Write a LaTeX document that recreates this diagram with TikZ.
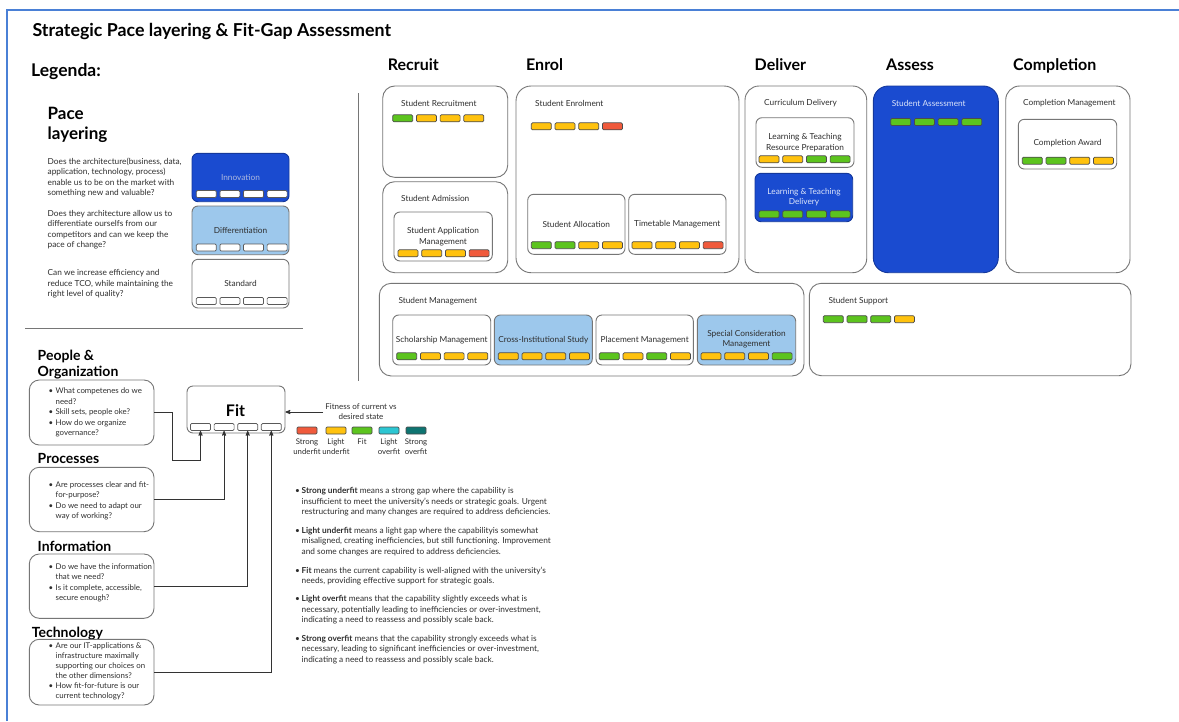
\documentclass[tikz,border=0pt]{standalone}
\usepackage{fontspec}
\setmainfont{Lato}
\usetikzlibrary{arrows,fit,positioning}
\definecolor{sapblue}{HTML}{1A4BD0}
\definecolor{paleblue}{HTML}{9DC8EC}
\definecolor{paletext}{HTML}{DCE4FA}
\definecolor{dimtext}{HTML}{AEB9DE}
\definecolor{boxgray}{HTML}{767676}
\definecolor{txtgray}{HTML}{2E2E2E}
\definecolor{fitR}{HTML}{F05A3C}
\definecolor{fitY}{HTML}{FFC20E}
\definecolor{fitG}{HTML}{5CC41E}
\definecolor{fitC}{HTML}{2CC6D2}
\definecolor{fitT}{HTML}{0E7471}
\definecolor{framecol}{HTML}{4A80D6}
\newcommand{\fsz}[2]{\fontsize{#1}{#2}\selectfont}
\newcommand{\bul}{\makebox[7pt][l]{\textbullet}}
\newcommand{\ind}{\hspace*{7pt}}
\newcommand{\dbul}{\makebox[6.5pt][l]{\textbullet}}
\newcommand{\dind}{\hspace*{6.5pt}}
% four coloured fit bars, #1 name, #2 x of first, #3 y, #4 colours
\newcommand{\fitbars}[4]{%
  \foreach \col [count=\i] in {#4}
    \node[fitbar, fill=\col] (#1-\i) at ({#2+(\i-1)*23.7},#3) {};}
\newcommand{\fitslots}[3]{%
  \foreach \i in {1,...,4}
    \node[fitslot] (#1-\i) at ({#2+(\i-1)*23.6},#3) {};}
\tikzset{
    %Define standard arrow tip
    >=stealth',
    %Define style for boxes
    capbox/.style={
           rectangle,
           rounded corners=12pt,
           draw=boxgray, line width=0.9pt,
           inner sep=0pt},
    subbox/.style={
           rectangle,
           rounded corners=6pt,
           draw=boxgray, line width=0.9pt,
           inner sep=0pt},
    bluebox/.style={fill=sapblue, draw=sapblue!75!black},
    palebox/.style={fill=paleblue},
    fitbar/.style={
           rectangle,
           rounded corners=1.2pt,
           draw=black!70, line width=0.7pt,
           minimum width=20pt,
           minimum height=7pt,
           inner sep=0pt},
    fitslot/.style={fitbar, fill=white, draw=black!65},
    lbl/.style={font=\fsz{8.3}{10.4}, text=txtgray, inner sep=0pt},
    dim/.style={lbl, font=\fsz{7.85}{10.4}, align=left, anchor=west},
    head/.style={font=\bfseries\fsz{16}{19}, text=black, inner sep=0pt, anchor=base west},
    % Define arrow style
    pil/.style={->, line width=0.8pt, black!80}
}

\begin{document}
\begin{tikzpicture}[x=1pt,y=-1pt]
\path[use as bounding box, fill=white] (0,0) rectangle (1179,721);
\draw[framecol, line width=2pt] (7,721) -- (7,10) -- (1179,10);

\node[head, font=\bfseries\fsz{17.8}{21}] (title) at (32.3,36.7) {Strategic Pace layering \& Fit-Gap Assessment};
\node[head, font=\bfseries\fsz{17.5}{21}] (leg) at (31,76) {Legenda:};

% pace layering
\node[head, font=\bfseries\fsz{17}{19.5}, align=left, anchor=north west] (pace) at (47.5,107.3) {Pace\\layering};
\node[lbl, align=left, anchor=west] (q1) at (47.5,177.6) {Does the architecture(business, data,\\application, technology, process)\\enable us to be on the market with\\something new and valuable?};
\node[lbl, align=left, anchor=west] (q2) at (47.5,229.8) {Does they architecture allow us to\\differentiate ourselfs from our\\competitors and can we keep the\\pace of change?};
\node[lbl, align=left, anchor=west] (q3) at (47.5,283.7) {Can we increase efficiency and\\reduce TCO, while maintaining the\\right level of quality?};
\node[subbox, bluebox, fit={(192,153.3) (289,201.7)}] (inno) {};
\node[subbox, palebox, fit={(192,206) (289,254.7)}] (diff) {};
\node[subbox, fit={(192,259.3) (289,308)}] (std) {};
\node[lbl, text=dimtext] (innot) at (240.5,177) {Innovation};
\node[lbl] (difft) at (240.5,230.3) {Differentiation};
\node[lbl] (stdt) at (240.5,283.5) {Standard};
\fitslots{inno}{206.3}{194}
\fitslots{diff}{206.3}{247.5}
\fitslots{std}{206.3}{301}
\draw[boxgray, line width=1pt] (25,328) -- (303,328);
\draw[boxgray, line width=1pt] (358.3,93) -- (358.3,381);

% dimensions
\node[head, font=\bfseries\fsz{14}{16.5}, align=left, anchor=west] (pplh) at (37.5,364.5) {People \&\\Organization};
\node[head, font=\bfseries\fsz{14}{16.5}] (proh) at (37.5,463.3) {Processes};
\node[head, font=\bfseries\fsz{14}{16.5}] (infh) at (37.5,551.7) {Information};
\node[head, font=\bfseries\fsz{14}{16.5}] (tech) at (31.7,637.5) {Technology};
\node[capbox, rounded corners=10pt, fit={(29.3,380) (154,445)}] (p1) {};
\node[capbox, rounded corners=10pt, fit={(29.3,467.3) (154,531.7)}] (p2) {};
\node[capbox, rounded corners=10pt, fit={(29.3,554) (154,618.3)}] (p3) {};
\node[capbox, rounded corners=10pt, fit={(29.3,639.3) (154,705)}] (p4) {};
\node[dim] (p1t) at (48.5,412.5) {\bul What competenes do we\\\ind need?\\\bul Skill sets, people oke?\\\bul How do we organize\\\ind governance?};
\node[dim] (p2t) at (48.5,501) {\bul Are processes clear and fit-\\\ind for-purpose?\\\bul Do we need to adapt our\\\ind way of working?};
\node[dim] (p3t) at (48.5,583) {\bul Do we have the information\\\ind that we need?\\\bul Is it complete, accessible,\\\ind secure enough?};
\node[dim, font=\fsz{7.85}{10}] (p4t) at (48.5,671.5) {\bul Are our IT-applications \&\\\ind infrastructure maximally\\\ind supporting our choices on\\\ind the other dimensions?\\\bul How fit-for-future is our\\\ind current technology?};

% fit
\node[subbox, fit={(187,386) (285,433)}] (fitbox) {};
\node[font=\bfseries\fsz{16}{19}, inner sep=0pt, anchor=base] (fitt) at (235.5,416.7) {Fit};
\fitslots{fs}{200.5}{427}
\draw[pil] (p1.east) -- ++(18,0) -- ++(0,47.5) -| (fs-1.south);
\draw[pil] (p2.east) -| (fs-2.south);
\draw[pil] (p3.east) -| (fs-3.south);
\draw[pil] (p4.east) -| (fs-4.south);
\node[lbl, font=\fsz{8}{10}, align=center, inner sep=2pt] (fitness) at (361,412) {Fitness of current vs\\desired state};
\draw[pil] (fitness.west) -- (fitness.west -| fitbox.east);
\foreach \col/\x/\txt [count=\i] in {fitR/307/Strong\\underfit, fitY/336/Light\\underfit, fitG/362/Fit, fitC/389/Light\\overfit, fitT/416/Strong\\overfit}{
  \node[fitbar, fill=\col] (sw-\i) at (\x,430.5) {};
  \node[lbl, font=\fsz{7.8}{9.3}, align=center, anchor=north] (sl-\i) at (\x,439) {\txt};
}

% definitions
\node[lbl, align=left, anchor=west] (d1) at (295,502) {\dbul\textbf{Strong underfit} means a strong gap where the capability is\\\dind insufficient to meet the university's needs or strategic goals. Urgent\\\dind restructuring and many changes are required to address deficiencies.};
\node[lbl, align=left, anchor=west] (d2) at (295,541.5) {\dbul\textbf{Light underfit} means a light gap where the capabilityis somewhat\\\dind misaligned, creating inefficiencies, but still functioning. Improvement\\\dind and some changes are required to address deficiencies.};
\node[lbl, align=left, anchor=west] (d3) at (295,575.8) {\dbul\textbf{Fit} means the current capability is well-aligned with the university's\\\dind needs, providing effective support for strategic goals.};
\node[lbl, align=left, anchor=west] (d4) at (295,610) {\dbul\textbf{Light overfit} means that the capability slightly exceeds what is\\\dind necessary, potentially leading to inefficiencies or over-investment,\\\dind indicating a need to reassess and possibly scale back.};
\node[lbl, align=left, anchor=west] (d5) at (295,649.5) {\dbul\textbf{Strong overfit} means that the capability strongly exceeds what is\\\dind necessary, leading to significant inefficiencies or over-investment,\\\dind indicating a need to reassess and possibly scale back.};

% value stream
\node[head] (h1) at (387.7,70.7) {Recruit};
\node[head] (h2) at (526,70.7) {Enrol};
\node[head] (h3) at (754.5,70.7) {Deliver};
\node[head] (h4) at (886,70.7) {Assess};
\node[head] (h5) at (1013,70.7) {Completion};

\node[capbox, fit={(382.7,86) (507.7,177.3)}] (rec) {};
\node[capbox, fit={(382.7,181.7) (507.7,272.7)}] (adm) {};
\node[subbox, fit={(394,212) (492.3,261)}] (app) {};
\node[capbox, rounded corners=15pt, fit={(516,86) (739,272.7)}] (enr) {};
\node[subbox, fit={(527.7,194.3) (625,254.3)}] (alloc) {};
\node[subbox, fit={(628.7,194.3) (726,254.3)}] (time) {};
\node[capbox, rounded corners=14pt, fit={(745,86) (866.7,272.7)}] (cur) {};
\node[subbox, fit={(756,117.7) (854,167.3)}] (lprep) {};
\node[subbox, bluebox, fit={(755,173.3) (852.7,221.7)}] (ldel) {};
\node[capbox, bluebox, rounded corners=15pt, fit={(873.3,86) (998.3,272.7)}] (assess) {};
\node[capbox, rounded corners=14pt, fit={(1005.7,86) (1130,272.7)}] (comp) {};
\node[subbox, fit={(1018.3,119.3) (1116.7,169)}] (award) {};
\node[capbox, fit={(379.3,283.3) (804,376)}] (mgmt) {};
\node[subbox, fit={(392.7,315) (490.7,365)}] (schol) {};
\node[subbox, palebox, fit={(494.3,315) (592.3,365)}] (cross) {};
\node[subbox, fit={(596,315) (693.3,365)}] (place) {};
\node[subbox, palebox, fit={(697.3,315) (795.7,365)}] (spec) {};
\node[capbox, fit={(809.3,283.3) (1131,375.7)}] (supp) {};

\node[lbl, anchor=west] (recl) at (401,103.3) {Student Recruitment};
\node[lbl, anchor=west] (adml) at (401,198.3) {Student Admission};
\node[lbl, anchor=west] (enrl) at (535,103.3) {Student Enrolment};
\node[lbl, anchor=west] (curl) at (764,103.3) {Curriculum Delivery};
\node[lbl, anchor=west, text=paletext] (assessl) at (891.7,103.3) {Student Assessment};
\node[lbl, anchor=west] (compl) at (1023,103.3) {Completion Management};
\node[lbl, anchor=west] (mgmtl) at (398.3,300.7) {Student Management};
\node[lbl, anchor=west] (suppl) at (828.3,300.7) {Student Support};
\node[lbl, align=center] (appt) at (443,236.7) {Student Application\\Management};
\node[lbl] (alloct) at (576.3,224.3) {Student Allocation};
\node[lbl] (timet) at (677.3,224.3) {Timetable Management};
\node[lbl, align=center] (lprept) at (805,142.7) {Learning \& Teaching\\Resource Preparation};
\node[lbl, align=center, text=paletext] (ldelt) at (804,197.3) {Learning \& Teaching\\Delivery};
\node[lbl] (awardt) at (1067.5,143.3) {Completion Award};
\node[lbl] (scholt) at (441.7,340) {Scholarship Management};
\node[lbl] (crosst) at (543.3,340) {Cross-Institutional Study};
\node[lbl] (placet) at (644.7,340) {Placement Management};
\node[lbl, align=center] (spect) at (746.5,339.3) {Special Consideration\\Management};

\fitbars{rec}{402.7}{118.3}{fitG,fitY,fitY,fitY}
\fitbars{app}{408}{253.3}{fitY,fitY,fitY,fitR}
\fitbars{enr}{541.3}{126.3}{fitY,fitY,fitY,fitR}
\fitbars{alloc}{541.3}{245.2}{fitG,fitG,fitY,fitY}
\fitbars{time}{642}{245.2}{fitY,fitY,fitY,fitR}
\fitbars{lprep}{769}{159.3}{fitY,fitY,fitG,fitG}
\fitbars{ldel}{769}{214.3}{fitG,fitG,fitG,fitG}
\fitbars{assess}{900.7}{122}{fitG,fitG,fitG,fitG}
\fitbars{award}{1032.3}{160.7}{fitG,fitG,fitY,fitY}
\fitbars{schol}{406.7}{356.3}{fitG,fitY,fitY,fitY}
\fitbars{cross}{508.3}{356.3}{fitY,fitY,fitY,fitY}
\fitbars{place}{609.3}{356.3}{fitG,fitY,fitG,fitY}
\fitbars{spec}{711}{356.3}{fitY,fitY,fitY,fitG}
\fitbars{supp}{833.3}{319.2}{fitG,fitG,fitG,fitY}
\end{tikzpicture}
\end{document}
